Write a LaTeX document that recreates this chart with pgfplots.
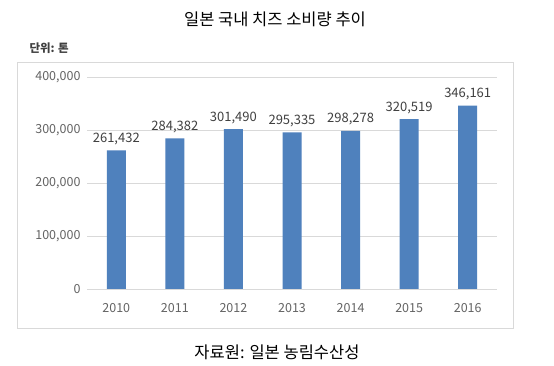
\documentclass[border=0pt]{standalone}
\usepackage{fontspec}
\setmainfont{Noto Sans CJK KR}
\usepackage{pgfplots}
\pgfplotsset{compat=1.18}
\definecolor{barblue}{RGB}{79,129,189}
\definecolor{tickgray}{RGB}{100,100,100}
\definecolor{lblgray}{RGB}{64,64,64}
\definecolor{gridgray}{RGB}{217,217,217}
\definecolor{framegray}{RGB}{217,217,217}
\begin{document}
\begin{tikzpicture}[x=1pt,y=1pt]
\useasboundingbox (0,0) rectangle (554,366);
\fill[white] (0,0) rectangle (554,366);
\draw[framegray, line width=0.8pt] (17,38) rectangle (513,304);
\node[font=\fontsize{16.5}{18}\selectfont, text=black] at (275,347) {일본 국내 치즈 소비량 추이};
\node[font=\fontsize{11.5}{13}\selectfont\bfseries, text=lblgray, anchor=west] at (26,318) {단위: 톤};
\node[font=\fontsize{16.5}{18}\selectfont, text=black] at (277,14) {자료원: 일본 농림수산성};
\begin{axis}[
  at={(87pt,77pt)}, anchor=south west,
  scale only axis, width=410pt, height=212pt,
  xmin=-0.5, xmax=6.5, ymin=0, ymax=400000,
  axis line style={draw=none},
  tick style={draw=none},
  xtick=data,
  xticklabels={2010,2011,2012,2013,2014,2015,2016},
  ytick={0,100000,200000,300000,400000},
  ymajorgrids, grid style={gridgray, line width=0.8pt},
  scaled y ticks=false,
  /pgf/number format/assume math mode=true,
  /pgf/number format/fixed,
  /pgf/number format/precision=0,
  /pgf/number format/1000 sep={,},
  tick label style={font=\fontsize{12.5}{14}\selectfont, text=tickgray},
  y tick label style={xshift=-3pt},
  x tick label style={yshift=-7pt},
  ybar, bar width=19pt,
  nodes near coords,
  point meta=y,
  every node near coord/.append style={font=\fontsize{13}{15}\selectfont, text=lblgray, yshift=2pt},
]
\addplot[fill=barblue, draw=none] coordinates {
  (0,261432) (1,284382) (2,301490) (3,295335) (4,298278) (5,320519) (6,346161)
};
\end{axis}
\end{tikzpicture}
\end{document}
